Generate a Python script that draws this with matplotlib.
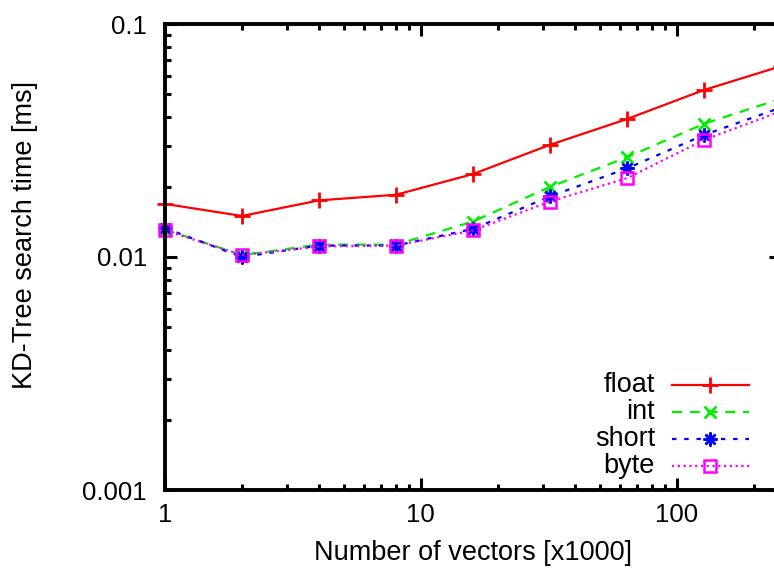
import matplotlib
matplotlib.use("Agg")
import matplotlib.pyplot as plt
from matplotlib.ticker import FixedLocator, FixedFormatter, NullFormatter
import numpy as np

plt.rcParams['font.family'] = ['Liberation Sans', 'DejaVu Sans']

# ---- data ----
vectors = [1, 2, 4, 8, 16, 32, 64, 128, 256]
float_t = [0.0169, 0.0150, 0.0175, 0.0185, 0.0227, 0.0303, 0.0391, 0.0521, 0.0659]
int_t   = [0.0131, 0.0102, 0.0113, 0.0113, 0.0142, 0.0200, 0.0268, 0.0373, 0.0478]
short_t = [0.0133, 0.0100, 0.0112, 0.0112, 0.0132, 0.0182, 0.0240, 0.0334, 0.0438]
byte_t  = [0.0130, 0.0102, 0.0111, 0.0112, 0.0130, 0.0173, 0.0218, 0.0318, 0.0422]
labels = ["float", "int", "short", "byte"]
xticks = [1, 10, 100]
xticklabels = ["1", "10", "100"]
yticks = [0.001, 0.01, 0.1]
yticklabels = ["0.001", "0.01", "0.1"]

W, H = 774, 573
fig = plt.figure(figsize=(W / 100, H / 100), dpi=100)
L, R, T, B = 165, 781, 24, 490
ax = fig.add_axes([L / W, (H - B) / H, (R - L) / W, (B - T) / H])

styles = [
    dict(color="#ff0000", linestyle="-", marker="+", ms=11, mew=2.0),
    dict(color="#00ee00", linestyle=(0, (4.5, 3.5)), marker="x", ms=9, mew=2.0),
    dict(color="#0000ff", linestyle=(0, (2.0, 3.5)), marker=(8, 2, 0), ms=10, mew=1.8),
    dict(color="#ff00ff", linestyle=(0, (1.0, 1.6)), marker="s", ms=9, mew=1.8, mfc="none"),
]
series = [float_t, int_t, short_t, byte_t]
for ys, st in zip(series, styles):
    ax.plot(vectors, ys, lw=1.6, clip_on=False, zorder=2, **st)

ax.set_xscale("log")
ax.set_yscale("log")
ax.set_xlim(1, 256)
ax.set_ylim(0.001, 0.1)

ax.xaxis.set_major_locator(FixedLocator(xticks))
ax.xaxis.set_major_formatter(FixedFormatter(xticklabels))
ax.xaxis.set_minor_locator(FixedLocator([m * d for d in (1, 10, 100) for m in range(2, 10)]))
ax.xaxis.set_minor_formatter(NullFormatter())
ax.yaxis.set_major_locator(FixedLocator(yticks))
ax.yaxis.set_major_formatter(FixedFormatter(yticklabels))
ax.yaxis.set_minor_locator(FixedLocator([m * d for d in (0.001, 0.01) for m in range(2, 10)]))
ax.yaxis.set_minor_formatter(NullFormatter())

ax.tick_params(which="both", direction="in", top=True, right=True, width=2.2, labelsize=18.5)
ax.tick_params(which="major", length=8.5)
ax.tick_params(which="minor", length=4.5)
ax.tick_params(axis="y", which="major", pad=13)
ax.tick_params(axis="x", which="major", pad=9)
for s in ax.spines.values():
    s.set_linewidth(2.8)
    s.set_zorder(3)

fig.text(473 / W, 1 - 553 / H, "Number of vectors [x1000]", ha="center", va="center", fontsize=19.5)
fig.text(25 / W, 1 - 235 / H, "KD-Tree search time [ms]", ha="center", va="center",
         rotation=90, fontsize=19.5)

# legend (gnuplot style: right-aligned text, sample to the right)
rows = [385, 412, 439, 466]
for lab, st, yr in zip(labels, styles, rows):
    fy = 1 - yr / H
    fig.text(655 / W, fy, lab, ha="right", va="center", fontsize=19.5)
    fig.add_artist(plt.Line2D([672 / W, 749 / W], [fy, fy], color=st["color"],
                              linestyle=st["linestyle"], lw=1.6))
    kw = {k: v for k, v in st.items() if k not in ("linestyle",)}
    fig.add_artist(plt.Line2D([710 / W], [fy], linestyle="none", **kw))

fig.savefig("out.png", dpi=100)
